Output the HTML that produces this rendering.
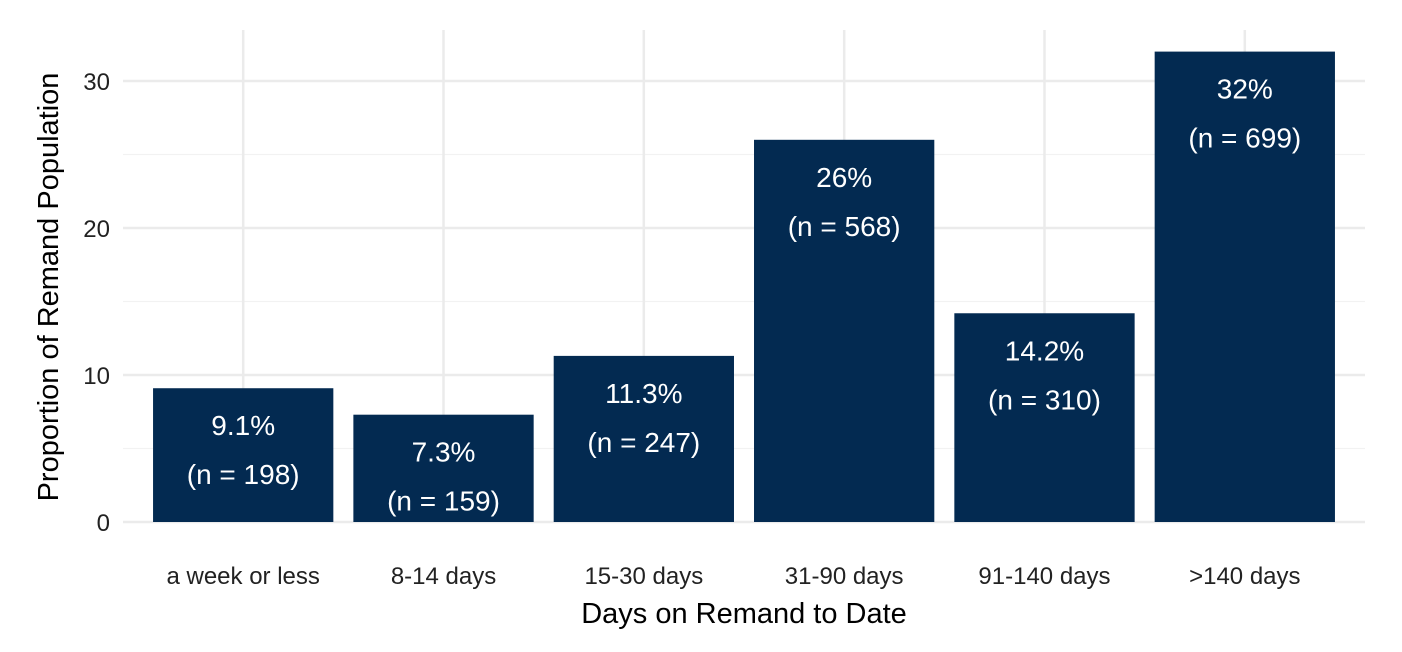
<!DOCTYPE html>
<html><head><meta charset="utf-8"><style>
body{margin:0;background:#fff;}
svg{display:block;font-family:"Liberation Sans",Arial,sans-serif;}
</style></head><body>
<svg id="chart" width="1402" height="652" viewBox="0 0 1402 652" xmlns="http://www.w3.org/2000/svg">
<g id="grid"></g>
<g id="bars"></g>
<g id="labels"></g>
<g id="yticks"></g>
<g id="xticks"></g>
<text x="744" y="623" font-size="29" fill="#000" text-anchor="middle">Days on Remand to Date</text>
<text transform="translate(58,287) rotate(-90)" font-size="29" fill="#000" text-anchor="middle">Proportion of Remand Population</text>
</svg>
<script>
const categories=["a week or less","8-14 days","15-30 days","31-90 days","91-140 days",">140 days"];
const values=[9.1,7.3,11.3,26,14.2,32];
const counts=[198,159,247,568,310,699];
const valueLabels=["9.1%","7.3%","11.3%","26%","14.2%","32%"];
const yTicks=[0,10,20,30];
const yMinor=[5,15,25];
const NS="http://www.w3.org/2000/svg";
const x0=123,x1=1365,y0=522,pxPerUnit=14.7,topY=30;
const step=(x1-x0)/(categories.length-0.2+0.2+0.2);
function xc(i){return x0+(x1-x0)*(0.6+i)/(categories.length+0.2);}
const bw=(x1-x0)/(categories.length+0.2)*0.9;
function y(v){return y0-v*pxPerUnit;}
function mk(tag,attrs,parent){const e=document.createElementNS(NS,tag);for(const k in attrs)e.setAttribute(k,attrs[k]);parent.appendChild(e);return e;}
const grid=document.getElementById('grid');
yMinor.forEach(v=>{const l=mk('line',{x1:x0,x2:x1,y1:y(v),y2:y(v),stroke:'#f2f2f2','stroke-width':1.3},grid);

});
yTicks.forEach(v=>{const l=mk('line',{x1:x0,x2:x1,y1:y(v),y2:y(v),stroke:'#ebebeb','stroke-width':2.5},grid);

});
categories.forEach((c,i)=>{const l=mk('line',{x1:xc(i),x2:xc(i),y1:topY,y2:y0,stroke:'#ebebeb','stroke-width':2.5},grid);

});
const bars=document.getElementById('bars'),labels=document.getElementById('labels');
const yt=document.getElementById('yticks'),xt=document.getElementById('xticks');
categories.forEach((c,i)=>{
 const r=mk('rect',{x:xc(i)-bw/2,y:y(values[i]),width:bw,height:y0-y(values[i]),fill:'#032a51'},bars);
 
 
 const t1=mk('text',{x:xc(i),y:y(values[i])+47,fill:'#fff','font-size':28,'text-anchor':'middle'},labels);
 t1.textContent=valueLabels[i];
 
 
 const t2=mk('text',{x:xc(i),y:y(values[i])+96,fill:'#fff','font-size':28,'text-anchor':'middle'},labels);
 t2.textContent='(n = '+counts[i]+')';
 
 
 const tx=mk('text',{x:xc(i),y:584,fill:'#222','font-size':24,'text-anchor':'middle'},xt);
 tx.textContent=c;
 
 
});
yTicks.forEach(v=>{const t=mk('text',{x:110,y:y(v)+9,fill:'#222','font-size':24,'text-anchor':'end'},yt);
 t.textContent=v;
 
 });
</script>
</body></html>
